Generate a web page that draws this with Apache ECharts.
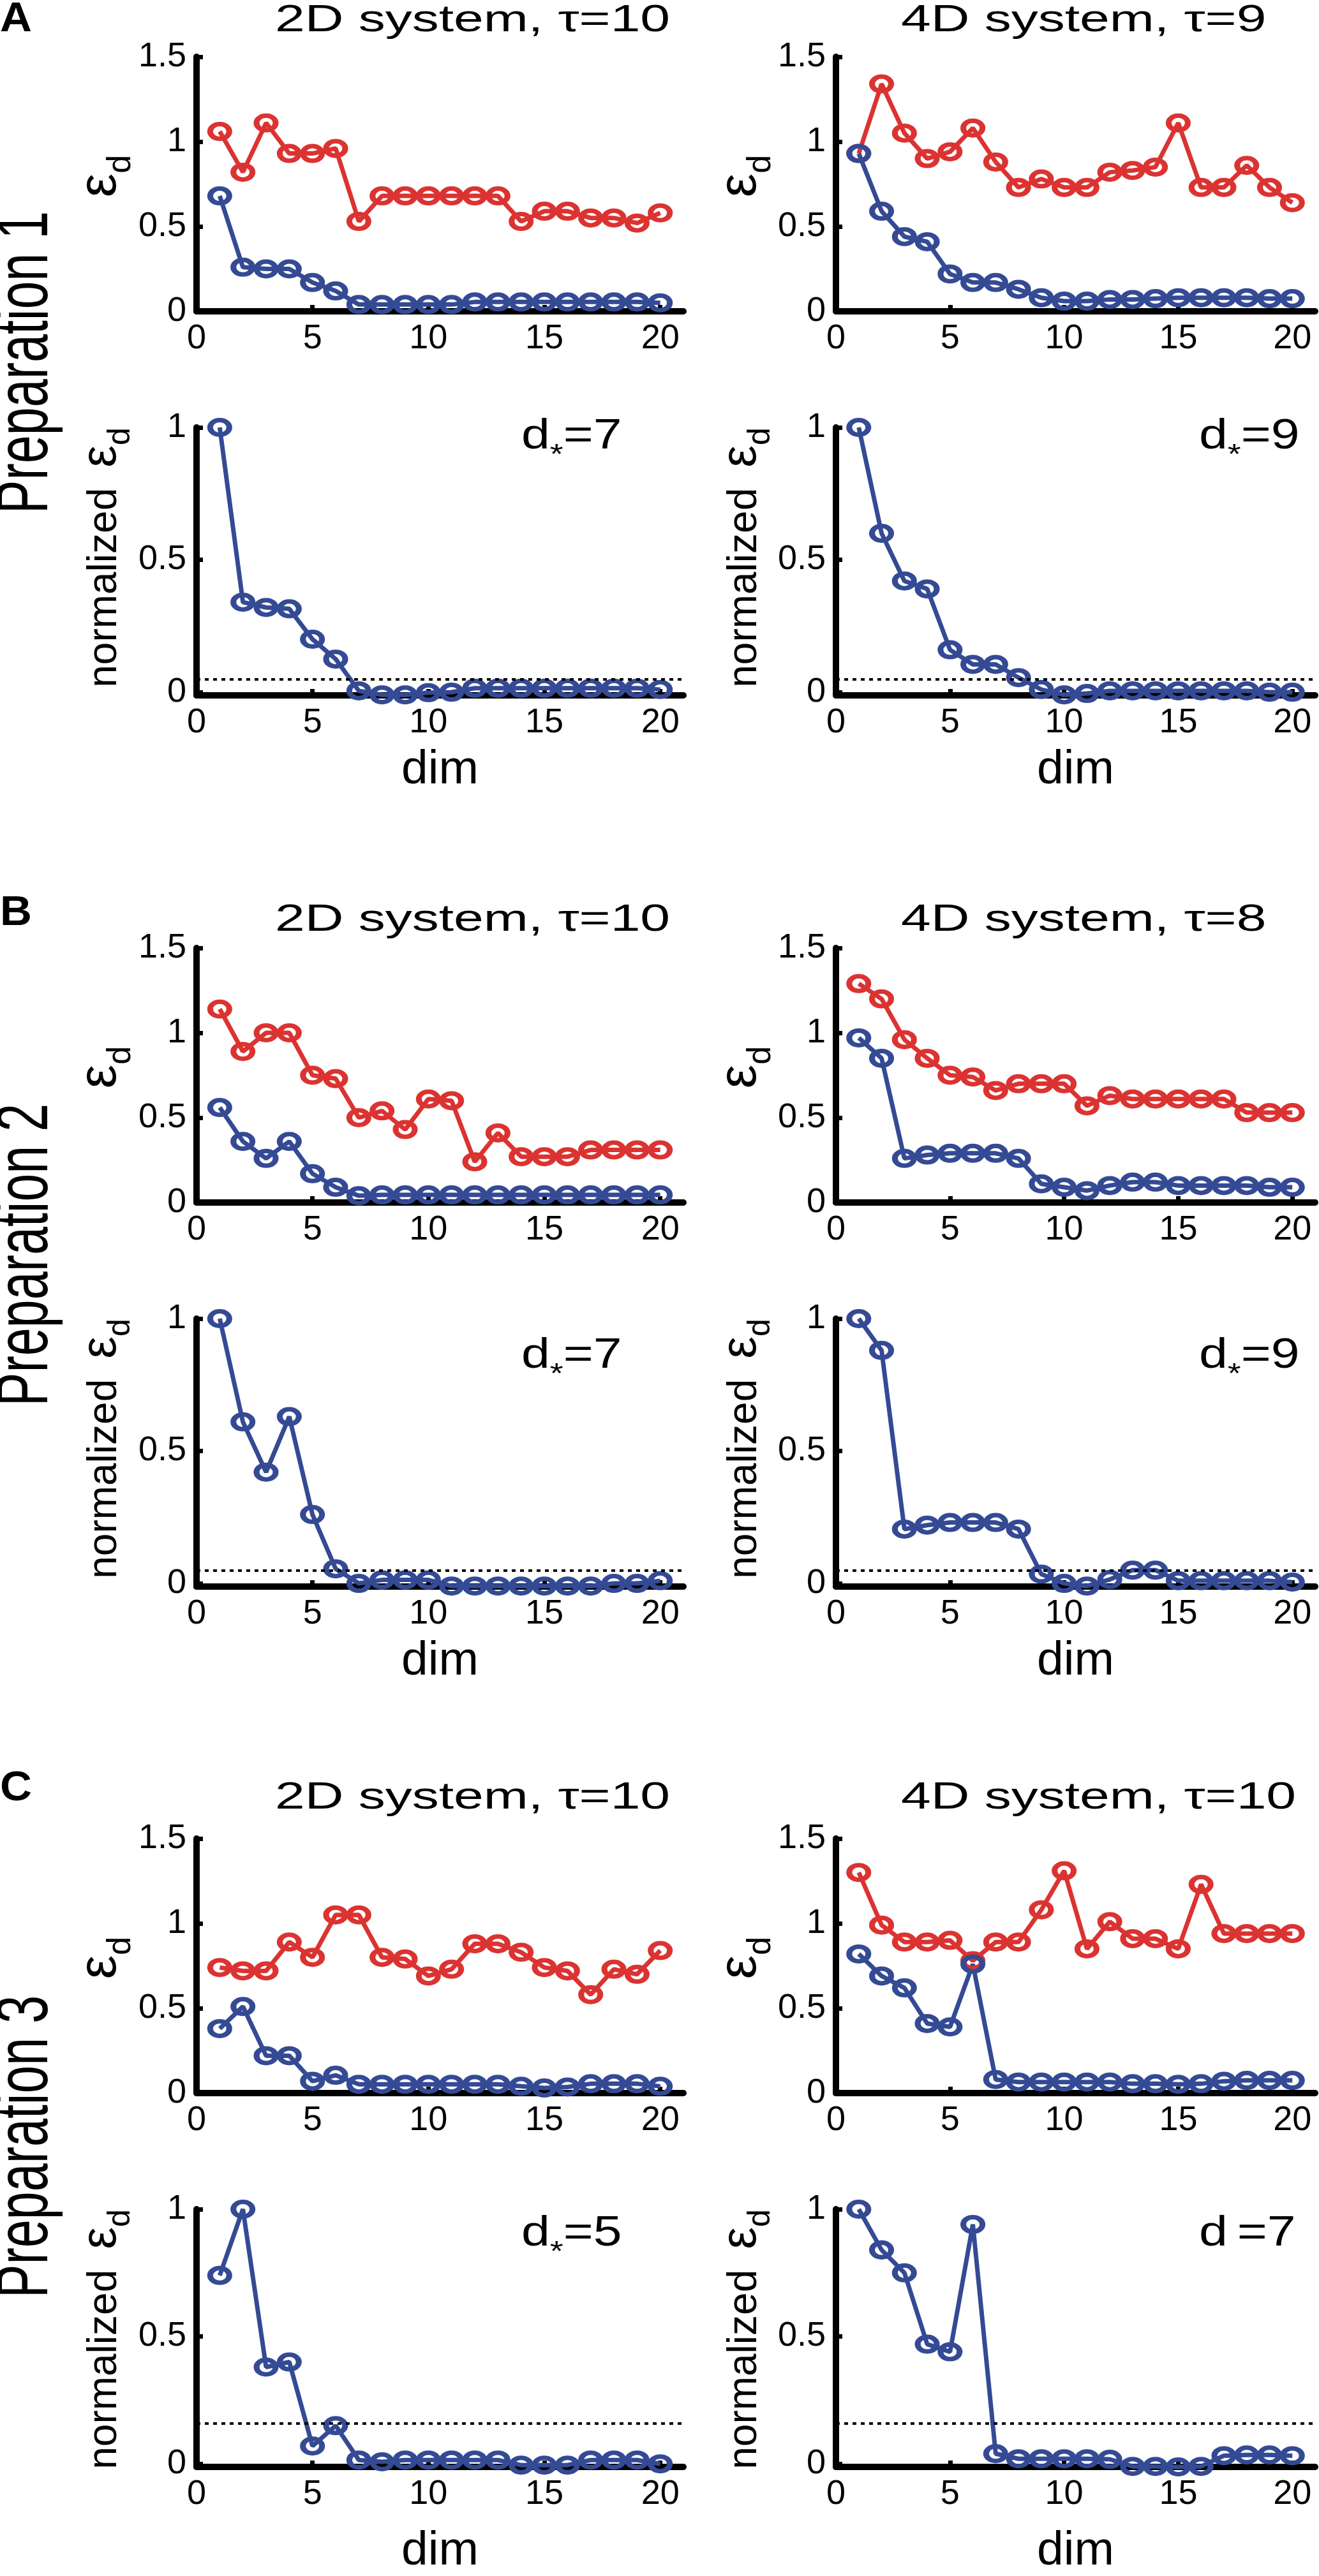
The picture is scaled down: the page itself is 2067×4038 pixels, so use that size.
<!DOCTYPE html>
<html>
<head>
<meta charset="utf-8">
<script src="https://cdn.jsdelivr.net/npm/echarts@6.0.0/dist/echarts.min.js"></script>
<style>
html, body { margin: 0; padding: 0; background: #fff; }
#main { width: 2067px; height: 4038px; }
</style>
</head>
<body>
<div id="main"></div>
<script>
const dims = [1, 2, 3, 4, 5, 6, 7, 8, 9, 10, 11, 12, 13, 14, 15, 16, 17, 18, 19, 20];
const xTicks = [0, 5, 10, 15, 20];
const yTicksTop = [0, 0.5, 1, 1.5];
const yTicksNorm = [0, 0.5, 1];

// Preparation 1
const redA1 = [1.06, 0.82, 1.11, 0.93, 0.93, 0.96, 0.53, 0.68, 0.68, 0.68, 0.68, 0.68, 0.68, 0.53, 0.59, 0.59, 0.55, 0.55, 0.52, 0.58];
const blueA1 = [0.68, 0.26, 0.25, 0.25, 0.17, 0.12, 0.04, 0.04, 0.04, 0.04, 0.04, 0.055, 0.055, 0.055, 0.055, 0.055, 0.055, 0.055, 0.055, 0.05];
const normA1 = [1.0, 0.34, 0.32, 0.315, 0.2, 0.125, 0.005, -0.01, -0.01, -0.002, 0.0, 0.015, 0.015, 0.015, 0.015, 0.015, 0.015, 0.015, 0.015, 0.01];
const redA2 = [0.93, 1.34, 1.05, 0.90, 0.94, 1.08, 0.88, 0.73, 0.78, 0.73, 0.73, 0.82, 0.83, 0.85, 1.11, 0.73, 0.73, 0.86, 0.73, 0.64];
const blueA2 = [0.93, 0.59, 0.44, 0.41, 0.22, 0.17, 0.17, 0.13, 0.08, 0.06, 0.06, 0.07, 0.07, 0.075, 0.08, 0.08, 0.08, 0.08, 0.075, 0.075];
const normA2 = [1.0, 0.60, 0.42, 0.39, 0.16, 0.105, 0.105, 0.055, 0.01, -0.01, -0.005, 0.005, 0.005, 0.005, 0.005, 0.005, 0.005, 0.005, 0.0, 0.0];

// Preparation 2
const redB1 = [1.14, 0.89, 1.0, 1.0, 0.75, 0.73, 0.50, 0.54, 0.43, 0.61, 0.60, 0.24, 0.41, 0.27, 0.27, 0.27, 0.31, 0.31, 0.31, 0.31];
const blueB1 = [0.56, 0.36, 0.26, 0.36, 0.17, 0.09, 0.04, 0.045, 0.045, 0.045, 0.045, 0.045, 0.045, 0.045, 0.045, 0.045, 0.045, 0.045, 0.045, 0.045];
const normB1 = [1.0, 0.61, 0.42, 0.63, 0.26, 0.055, 0.0, 0.013, 0.013, 0.013, -0.01, -0.01, -0.01, -0.01, -0.01, -0.01, -0.01, 0.0, 0.0, 0.01];
const redB2 = [1.29, 1.20, 0.96, 0.85, 0.75, 0.74, 0.66, 0.70, 0.70, 0.70, 0.57, 0.63, 0.61, 0.61, 0.61, 0.61, 0.61, 0.53, 0.53, 0.53];
const blueB2 = [0.97, 0.85, 0.26, 0.28, 0.29, 0.29, 0.29, 0.26, 0.11, 0.09, 0.07, 0.10, 0.12, 0.12, 0.10, 0.10, 0.10, 0.10, 0.09, 0.09];
const normB2 = [1.0, 0.88, 0.205, 0.22, 0.23, 0.23, 0.23, 0.205, 0.035, 0.0, -0.01, 0.015, 0.05, 0.05, 0.01, 0.01, 0.01, 0.01, 0.01, 0.005];

// Preparation 3
const redC1 = [0.74, 0.72, 0.72, 0.89, 0.80, 1.05, 1.05, 0.80, 0.79, 0.69, 0.73, 0.88, 0.88, 0.83, 0.74, 0.72, 0.58, 0.73, 0.70, 0.84];
const blueC1 = [0.38, 0.51, 0.22, 0.22, 0.07, 0.105, 0.052, 0.052, 0.052, 0.052, 0.052, 0.052, 0.052, 0.04, 0.03, 0.036, 0.055, 0.055, 0.055, 0.04];
const normC1 = [0.74, 1.0, 0.38, 0.40, 0.07, 0.15, 0.015, 0.008, 0.015, 0.015, 0.015, 0.015, 0.015, -0.005, -0.005, -0.005, 0.015, 0.015, 0.015, 0.0];
const redC2 = [1.30, 0.99, 0.89, 0.89, 0.90, 0.78, 0.89, 0.89, 1.08, 1.31, 0.85, 1.01, 0.91, 0.91, 0.85, 1.23, 0.94, 0.94, 0.94, 0.94];
const blueC2 = [0.82, 0.69, 0.62, 0.41, 0.39, 0.76, 0.08, 0.065, 0.065, 0.065, 0.065, 0.065, 0.055, 0.055, 0.052, 0.055, 0.07, 0.075, 0.075, 0.075];
const normC2 = [1.0, 0.84, 0.75, 0.47, 0.44, 0.94, 0.04, 0.02, 0.02, 0.02, 0.02, 0.018, -0.01, -0.01, -0.012, -0.01, 0.032, 0.035, 0.035, 0.032];

const thresholds = [0.052, 0.052, 0.052, 0.052, 0.158, 0.158];
const titles = ['2D system, τ=10', '4D system, τ=9', '2D system, τ=10', '4D system, τ=8', '2D system, τ=10', '4D system, τ=10'];
const dLabels = [['d', '*', '=7'], ['d', '*', '=9'], ['d', '*', '=7'], ['d', '*', '=9'], ['d', '*', '=5'], ['d', ' ', '=7']];
const prepLabels = ['Preparation 1', 'Preparation 2', 'Preparation 3'];
const panelLetters = ['A', 'B', 'C'];

const redSets = [redA1, redA2, redB1, redB2, redC1, redC2];
const blueSets = [blueA1, blueA2, blueB1, blueB2, blueC1, blueC2];
const normSets = [normA1, normA2, normB1, normB2, normC1, normC2];

// layout (page pixels)
const RED = '#db3331';
const BLUE = '#344a94';
const FONT = '"Liberation Sans", Arial, Helvetica, sans-serif';
const colLeft = [308, 1310];
const colWidth = [763, 751];
const rowTop = [0, 1397, 2793];
const titleY = [32, 1442, 2818];
const letterY = [31, 1432, 2804];
const prepY = [568, 1967, 3365];
const dBase = [708, 2149, 3525];
const dX = [817, 1879];
const ylabBase = [187, 1190];
const ELLIPSE = 'path://M0,11.5A15,11.5 0 1 1 30,11.5A15,11.5 0 1 1 0,11.5Z';

// text measuring, used to chain subscripts after their base text
const mctx = document.createElement('canvas').getContext('2d');
function textW(s, size, weight) {
    mctx.font = (weight || 'normal') + ' ' + size + 'px ' + FONT;
    return mctx.measureText(s).width;
}

function makeX(gi, withName, r) {
    return {
        type: 'value', gridIndex: gi, min: 0, max: 21,
        axisLine: { show: true, onZero: false, lineStyle: { color: '#000', width: 10 } },
        axisTick: { show: true, inside: true, length: 10, customValues: xTicks, lineStyle: { color: '#000', width: 7 } },
        axisLabel: { customValues: xTicks, margin: 16, fontSize: 54, color: '#000', fontFamily: FONT },
        splitLine: { show: false },
        name: withName ? 'dim' : '',
        nameLocation: 'middle',
        nameGap: r === 2 ? 95 : 80,
        nameTextStyle: { fontSize: 75, color: '#000', fontFamily: FONT }
    };
}

function makeY(gi, min, max, ticks) {
    return {
        type: 'value', gridIndex: gi, min: min, max: max,
        axisLine: { show: true, onZero: false, lineStyle: { color: '#000', width: 10 } },
        axisTick: { show: true, inside: true, length: 10, customValues: ticks, lineStyle: { color: '#000', width: 7 } },
        axisLabel: { customValues: ticks, margin: 16, fontSize: 54, color: '#000', fontFamily: FONT },
        splitLine: { show: false }
    };
}

function lineSeries(gi, values, color, thr) {
    const s = {
        type: 'line',
        xAxisIndex: gi, yAxisIndex: gi,
        data: dims.map((d, k) => [d, values[k]]),
        symbol: ELLIPSE,
        symbolSize: [30, 23],
        symbolKeepAspect: false,
        showAllSymbol: true,
        clip: false,
        lineStyle: { color: color, width: 7 },
        itemStyle: { color: 'rgba(255,255,255,0)', borderColor: color, borderWidth: 8 },
        emphasis: { disabled: true }
    };
    if (thr !== undefined) {
        s.markLine = {
            silent: true,
            symbol: ['none', 'none'],
            label: { show: false },
            lineStyle: { color: '#000', type: [6, 7], width: 4 },
            data: [{ yAxis: thr }]
        };
    }
    return s;
}

function txt(x, y, text, size, extra, weight) {
    return Object.assign({
        type: 'text', x: x, y: y,
        style: {
            text: text, fontSize: size, fontWeight: weight || 'normal', fontFamily: FONT, fill: '#000',
            align: 'left', textAlign: 'left', verticalAlign: 'middle', textVerticalAlign: 'middle'
        }
    }, extra || {});
}

const grid = [], xAxis = [], yAxis = [], series = [], elements = [];

// rotated label made of pieces [text, fontSize, baseline shift], read bottom to top
function vLabel(xb, yc, parts) {
    const widths = parts.map(p => textW(p[0], p[1]));
    const total = widths.reduce((a, b) => a + b, 0);
    let y = yc + total / 2;
    parts.forEach((p, k) => {
        elements.push(txt(xb + p[2] - 0.35 * p[1], y, p[0], p[1], { rotation: Math.PI / 2 }));
        y -= widths[k];
    });
}

for (let i = 0; i < 6; i++) {
    const r = Math.floor(i / 2), c = i % 2;
    const top = rowTop[r];
    const g1 = 2 * i, g2 = 2 * i + 1;
    grid.push({ left: colLeft[c], width: colWidth[c], top: top + 89, height: 399 });
    grid.push({ left: colLeft[c], width: colWidth[c], top: top + 670, height: 420 });
    xAxis.push(makeX(g1, false, r));
    xAxis.push(makeX(g2, true, r));
    yAxis.push(makeY(g1, 0, 1.5, yTicksTop));
    yAxis.push(makeY(g2, -0.012, 1, yTicksNorm));
    series.push(lineSeries(g1, redSets[i], RED));
    series.push(lineSeries(g1, blueSets[i], BLUE));
    series.push(lineSeries(g2, normSets[i], BLUE, thresholds[i]));

    // panel title
    const tX = c === 0 ? 431 : 1412;
    elements.push(txt(tX, titleY[r], titles[i], 60, { scaleX: 1.4 }));

    // y-axis names
    vLabel(ylabBase[c], top + 276, [['ε', 84, 0], ['d', 52, 21]]);
    vLabel(ylabBase[c], top + 874, [['normalized\u2002', 64, 0], ['ε', 78, 0], ['d', 50, 20]]);

    // d* annotation: d, lowered asterisk, =N
    const dl = dLabels[i];
    const sx = 1.22;
    const base = dBase[r];
    const wD = textW(dl[0], 66) * sx;
    const wS = textW(dl[1], 44) * sx;
    elements.push(txt(dX[c], base - 23, dl[0], 66, { scaleX: sx }));
    elements.push(txt(dX[c] + wD, base + 7, dl[1], 44, { scaleX: sx }));
    elements.push(txt(dX[c] + wD + wS, base - 23, dl[2], 66, { scaleX: sx }));
}

for (let r = 0; r < 3; r++) {
    elements.push(txt(0, letterY[r], panelLetters[r], 64, { scaleX: 1.08 }, 'bold'));
    const p = txt(42, prepY[r], prepLabels[r], 79, { rotation: Math.PI / 2, scaleY: 1.45 });
    p.style.align = 'center';
    p.style.textAlign = 'center';
    elements.push(p);
}

const myChart = echarts.init(document.getElementById('main'));
const option = {
    backgroundColor: '#fff',
    animation: false,
    grid: grid,
    xAxis: xAxis,
    yAxis: yAxis,
    series: series,
    graphic: { elements: elements }
};
myChart.setOption(option);
</script>
</body>
</html>
